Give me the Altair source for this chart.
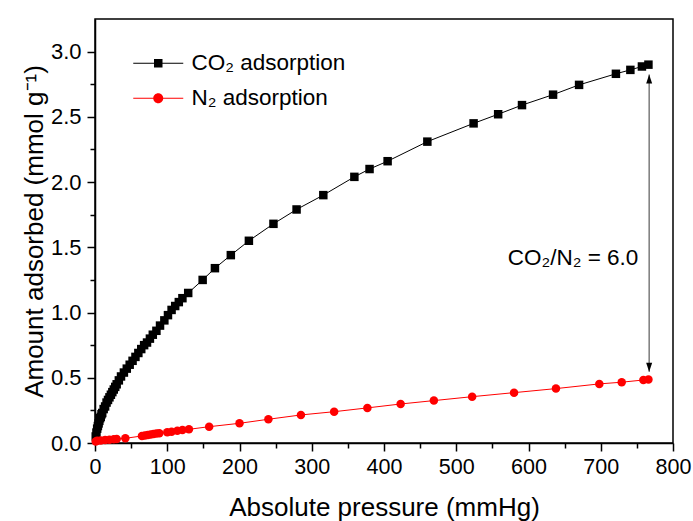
import altair as alt
import pandas as pd

# ---- data ----
co2_p = [1, 2, 3, 4, 5, 6, 7, 8, 9, 10, 12, 14, 16, 18, 20, 22, 24, 26, 28, 30,
         33, 36, 40, 44, 48, 52, 56, 60, 64, 68, 72, 76, 80, 85, 90, 96, 101, 106,
         111, 116, 121, 129, 149, 166, 188, 213, 247, 279, 316, 359, 380, 405,
         460, 524, 558, 591, 634, 670, 721, 741, 757, 766]
co2_q = [0.05, 0.08, 0.11, 0.13, 0.15, 0.17, 0.19, 0.20, 0.22, 0.23, 0.26, 0.28,
         0.31, 0.33, 0.35, 0.37, 0.39, 0.41, 0.43, 0.45, 0.48, 0.51, 0.54, 0.57,
         0.60, 0.63, 0.66, 0.69, 0.72, 0.75, 0.77, 0.80, 0.83, 0.86, 0.90, 0.94,
         0.98, 1.02, 1.05, 1.08, 1.11, 1.15, 1.25, 1.34, 1.44, 1.55, 1.68, 1.79,
         1.90, 2.04, 2.10, 2.16, 2.31, 2.45, 2.52, 2.59, 2.67, 2.745, 2.83, 2.86,
         2.886, 2.90]
n2_p = [1, 3, 8, 14, 20, 26, 30, 42, 65, 69, 73, 77, 81, 85, 89, 100, 106, 114,
        121, 130, 158, 200, 240, 285, 331, 377, 423, 469, 522, 580, 638, 698, 729,
        759, 766]
n2_q = [0.012, 0.018, 0.020, 0.023, 0.025, 0.028, 0.031, 0.036, 0.054, 0.057,
        0.061, 0.065, 0.069, 0.072, 0.075, 0.082, 0.087, 0.094, 0.100, 0.105,
        0.125, 0.151, 0.182, 0.215, 0.240, 0.269, 0.299, 0.325, 0.355, 0.386,
        0.417, 0.453, 0.466, 0.483, 0.486]

series_names = ["CO\u2082 adsorption", "N\u2082 adsorption"]
series_colors = ["#000000", "#ff0000"]

x_major = [0, 100, 200, 300, 400, 500, 600, 700, 800]
x_minor = [50, 150, 250, 350, 450, 550, 650, 750]
y_major = [0.0, 0.5, 1.0, 1.5, 2.0, 2.5, 3.0]
y_minor = [0.25, 0.75, 1.25, 1.75, 2.25, 2.75]

arrow_x = [767]
arrow_top = [2.824]
arrow_bottom = [0.547]
ratio_label = ["CO\u2082/N\u2082 = 6.0"]
ratio_x = [752]
ratio_y = [1.42]

FONT = "Liberation Sans"

co2_df = pd.DataFrame({"p": co2_p, "q": co2_q, "series": series_names[0]})
n2_df = pd.DataFrame({"p": n2_p, "q": n2_q, "series": series_names[1]})

xscale = alt.Scale(domain=[0, 800], nice=False, zero=False)
yscale = alt.Scale(domain=[0, 3.25], nice=False, zero=False)

x_axis = alt.Axis(values=x_major, title="Absolute pressure (mmHg)", orient="bottom",
                  grid=False, tickSize=8, tickWidth=1.5, domainWidth=1.5,
                  domainColor="black", tickColor="black", labelFont=FONT,
                  labelFontSize=21.5, labelColor="black", labelPadding=5,
                  titleFont=FONT, titleFontSize=26, titleFontWeight="normal",
                  titleColor="black", titlePadding=17, labelFlush=False)
y_axis = alt.Axis(values=y_major, format=".1f", title="Amount adsorbed (mmol g\u207B\u00B9)",
                  orient="left", grid=False, tickSize=8, tickWidth=1.5,
                  domainWidth=1.5, domainColor="black", tickColor="black",
                  labelFont=FONT, labelFontSize=22, labelColor="black",
                  labelPadding=6, titleFont=FONT, titleFontSize=26,
                  titleFontWeight="normal", titleColor="black", titlePadding=3,
                  labelFlush=False)

# legend symbols: thin bar (line) + marker, filled
SQ_PATH = "M-5,-0.1H5V0.1H-5Z M-0.85,-0.85H0.85V0.85H-0.85Z"
CI_PATH = "M-5,-0.1H5V0.1H-5Z M1,0A1,1 0 1,1 -1,0A1,1 0 1,1 1,0Z"


def make_legend(path, y):
    return alt.Legend(orient="none", legendX=52, legendY=y, title=None, padding=0,
                      labelFont=FONT, labelFontSize=22.5, labelColor="black",
                      symbolSize=100, symbolType=path, symbolStrokeWidth=0,
                      symbolOpacity=1, labelOffset=22)


def series_layers(d, idx, shape, legend_y, path):
    cs = alt.Scale(domain=[series_names[idx]], range=[series_colors[idx]])
    line = alt.Chart(d).mark_line(strokeWidth=1).encode(
        x=alt.X("p:Q", scale=xscale, axis=None),
        y=alt.Y("q:Q", scale=yscale, axis=None),
        color=alt.Color("series:N", scale=cs, legend=None),
    )
    pts = alt.Chart(d).mark_point(filled=True, size=72, opacity=1, shape=shape).encode(
        x=alt.X("p:Q", scale=xscale, axis=None),
        y=alt.Y("q:Q", scale=yscale, axis=None),
        color=alt.Color("series:N", scale=cs, legend=make_legend(path, legend_y)),
    )
    return line, pts


co2_line, co2_pts = series_layers(co2_df, 0, "square", 33, SQ_PATH)
n2_line, n2_pts = series_layers(n2_df, 1, "circle", 68, CI_PATH)

adf = pd.DataFrame({"x": arrow_x, "top": arrow_top, "bottom": arrow_bottom})
arrow_line = alt.Chart(adf).mark_rule(color="#666666", strokeWidth=1.3).encode(
    x=alt.X("x:Q", scale=xscale, axis=None),
    y=alt.Y("top:Q", scale=yscale, axis=None),
    y2="bottom:Q",
)
head_up = alt.Chart(adf).mark_point(
    shape="M0,0L-1,3L1,3Z", filled=True, size=36, color="black", opacity=1
).encode(
    x=alt.X("x:Q", scale=xscale, axis=None),
    y=alt.Y("top:Q", scale=yscale, axis=None),
)
head_down = alt.Chart(adf).mark_point(
    shape="M0,0L-1,-3L1,-3Z", filled=True, size=36, color="black", opacity=1
).encode(
    x=alt.X("x:Q", scale=xscale, axis=None),
    y=alt.Y("bottom:Q", scale=yscale, axis=None),
)

tdf = pd.DataFrame({"x": ratio_x, "y": ratio_y, "label": ratio_label})
ratio_text = alt.Chart(tdf).mark_text(
    align="right", baseline="middle", font=FONT, fontSize=22.5, color="black"
).encode(
    x=alt.X("x:Q", scale=xscale, axis=None),
    y=alt.Y("y:Q", scale=yscale, axis=None),
    text="label:N",
)

# main axes layer
mdf = pd.DataFrame({"p": [0, 800], "q": [0, 3.25]})
main_axes = alt.Chart(mdf).mark_point(opacity=0).encode(
    x=alt.X("p:Q", scale=xscale, axis=x_axis),
    y=alt.Y("q:Q", scale=yscale, axis=y_axis),
)
# minor ticks via an extra axis layer
minor = alt.Chart(mdf).mark_point(opacity=0).encode(
    x=alt.X("p:Q", scale=xscale, axis=alt.Axis(
        values=x_minor, labels=False, domain=False, grid=False, ticks=True,
        tickSize=5, tickWidth=1.5, tickColor="black", title=None, orient="bottom")),
    y=alt.Y("q:Q", scale=yscale, axis=alt.Axis(
        values=y_minor, labels=False, domain=False, grid=False, ticks=True,
        tickSize=5, tickWidth=1.5, tickColor="black", title=None, orient="left")),
)

chart = alt.layer(
    main_axes, minor, co2_line, n2_line, co2_pts, n2_pts,
    arrow_line, head_up, head_down, ratio_text
).resolve_axis(x="independent", y="independent").resolve_scale(
    color="independent"
).properties(
    width=578, height=424,
    padding={"left": 95, "top": 19, "right": 20, "bottom": 78},
    autosize=alt.AutoSizeParams(type="none"),
    background="white",
).configure_view(stroke="black", strokeWidth=1.5)

chart.save("out.html", embed_options={"renderer": "svg", "actions": False})
